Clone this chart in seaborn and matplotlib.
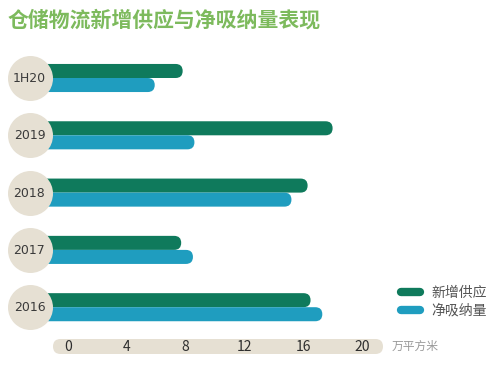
import matplotlib
matplotlib.use("Agg")
import matplotlib.pyplot as plt
import pandas as pd
import seaborn as sns
from matplotlib.patches import FancyBboxPatch
from matplotlib.lines import Line2D

# data (万平方米)
periods = ['1H20', '2019', '2018', '2017', '2016']
new_supply = [7.8, 18.0, 16.3, 7.7, 16.5]
net_absorption = [5.9, 8.6, 15.2, 8.5, 17.3]
series_names = ['新增供应', '净吸纳量']
ticks = [0, 4, 8, 12, 16, 20]

GREEN = '#0f7a5c'
TEAL = '#1f9dbf'
BEIGE = '#e6e0d3'
TITLE_GREEN = '#7dba5d'

df = pd.DataFrame({
    'period': periods * 2,
    'value': new_supply + net_absorption,
    'series': [series_names[0]] * len(periods) + [series_names[1]] * len(periods),
})

sns.set_style('white')
plt.rcParams['font.family'] = ['Noto Sans CJK SC', 'DejaVu Sans']

fig = plt.figure(figsize=(5, 3.65), dpi=100)
ax = fig.add_axes([0, 0, 1, 1])

sns.barplot(data=df, y='period', x='value', hue='series', orient='h',
            order=periods, hue_order=series_names, saturation=1,
            palette=[GREEN, TEAL], width=0.49, ax=ax, legend=False)

# pixel scale: 14.7 px per unit on x, 57.3 px per row on y
ax.set_xlim(-68 / 14.7, (500 - 68) / 14.7)
ax.set_ylim((365 - 78) / 57.3, -78 / 57.3)
ax.axis('off')

aspect = 14.7 / 57.3
start = -2.0
for p in list(ax.patches):
    x0, y0 = p.get_x(), p.get_y()
    w, h = p.get_width(), p.get_height()
    color = p.get_facecolor()
    p.remove()
    r = h / 2 / aspect
    ax.add_patch(FancyBboxPatch((start, y0), x0 + w - start, h,
                                boxstyle=f'round,pad=0,rounding_size={r}',
                                mutation_aspect=aspect, facecolor=color,
                                edgecolor='none', zorder=2))

# circles with period labels
ypos = list(range(len(periods)))
cx = (29.5 - 68) / 14.7
ax.scatter([cx] * len(periods), ypos, s=1050, color=BEIGE,
           zorder=3, linewidths=0)
for y, lab in zip(ypos, periods):
    ax.text(cx, y + 0.01, lab, ha='center', va='center',
            fontsize=9, color='#3a3a3a', family='DejaVu Sans', zorder=4)

# axis pill
py = (346.5 - 78) / 57.3
ph = 15 / 57.3
px0, px1 = (53 - 68) / 14.7, (383 - 68) / 14.7
ax.add_patch(FancyBboxPatch((px0, py - ph / 2), px1 - px0, ph,
                            boxstyle=f'round,pad=0,rounding_size={ph / 2 / aspect}',
                            mutation_aspect=aspect, facecolor=BEIGE,
                            edgecolor='none', zorder=2))
for t in ticks:
    ax.text(t, py + 0.01, str(t), ha='center', va='center', fontsize=10,
            color='#2e2e2e', zorder=3)
ax.text((392 - 68) / 14.7, py, '万平方米', ha='left', va='center',
        fontsize=8.5, color='#9a9a9a')

# legend
handles = [Line2D([], [], color=GREEN, lw=6, solid_capstyle='round'),
           Line2D([], [], color=TEAL, lw=6, solid_capstyle='round')]
fig.legend(handles, series_names, loc='upper left',
           bbox_to_anchor=(401 / 500, 1 - 286 / 365), frameon=False,
           fontsize=10, handlelength=1.4, handletextpad=0.8,
           labelspacing=0.25, borderpad=0, borderaxespad=0,
           labelcolor='#555555')

fig.text(8 / 500, 1 - 20 / 365, '仓储物流新增供应与净吸纳量表现',
         ha='left', va='center', fontsize=15, fontweight='bold',
         color=TITLE_GREEN)

fig.savefig('out.png', dpi=100)
